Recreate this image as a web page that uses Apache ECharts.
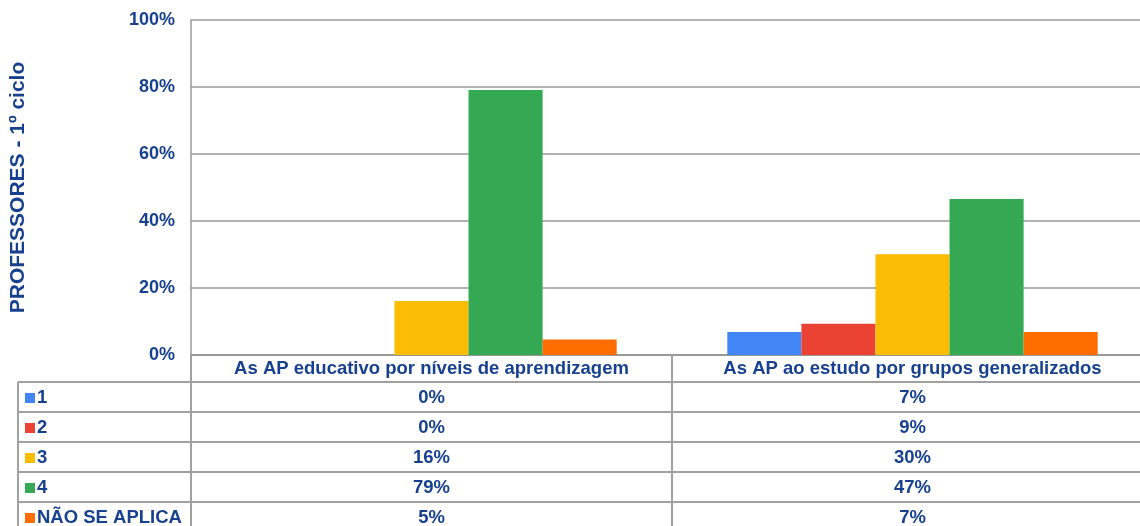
<!DOCTYPE html>
<html><head><meta charset="utf-8">
<script src="https://cdn.jsdelivr.net/npm/echarts@6/dist/echarts.min.js"></script>
<style>html,body{margin:0;padding:0;background:#fff}#c{width:1140px;height:526px}</style>
</head><body><div id="c"></div>
<script>
const categories = ['As AP educativo por níveis de aprendizagem', 'As AP ao estudo por grupos generalizados'];
const seriesNames = ['1', '2', '3', '4', 'NÃO SE APLICA'];
const s1 = [0, 6.9];
const s2 = [0, 9.3];
const s3 = [16.1, 30.1];
const s4 = [79.1, 46.6];
const sNA = [4.6, 6.9];
const seriesValues = [s1, s2, s3, s4, sNA];
const yAxisTitle = 'PROFESSORES - 1º ciclo';

const colors = ['#4285F4', '#EA4335', '#FBBC04', '#34A853', '#FF6D00'];
const TXT = '#17418f';
const FONT = 'Liberation Sans, Arial, sans-serif';
const GRID_LEFT = 191, GRID_TOP = 20, GRID_W = 962, GRID_H = 335;

const chart = echarts.init(document.getElementById('c'), null, {renderer: 'canvas'});
chart.setOption({
  animation: false,
  backgroundColor: '#fff',
  grid: {left: GRID_LEFT, top: GRID_TOP, width: GRID_W, height: GRID_H, containLabel: false, outerBoundsMode: 'none'},
  xAxis: {
    type: 'category', data: categories,
    axisLine: {lineStyle: {color: '#999', width: 2}},
    axisTick: {show: false},
    axisLabel: {color: TXT, fontFamily: FONT, fontWeight: 'bold', fontSize: 18.5, margin: 4, interval: 0}
  },
  yAxis: {
    type: 'value', min: 0, max: 100, interval: 20,
    name: yAxisTitle, nameLocation: 'middle', nameRotate: 90, nameGap: 162,
    nameTextStyle: {color: TXT, fontFamily: FONT, fontWeight: 'bold', fontSize: 21},
    axisLine: {show: true, lineStyle: {color: '#999', width: 1.5}},
    axisTick: {show: false},
    splitLine: {lineStyle: {color: '#999', width: 1.5}},
    axisLabel: {color: TXT, fontFamily: FONT, fontWeight: 'bold', fontSize: 18, margin: 16, formatter: '{value}%'}
  },
  series: seriesNames.map((n, i) => ({
    name: n, type: 'bar', data: seriesValues[i], barGap: '0%', barCategoryGap: '23%',
    itemStyle: {color: colors[i]}
  }))
});

// Data table under the plot
const c0 = chart.convertToPixel({xAxisIndex: 0}, 0);
const c1 = chart.convertToPixel({xAxisIndex: 0}, 1);
const step = c1 - c0;
const plotLeft = c0 - step / 2;
const boundary = (c0 + c1) / 2;
const yBase = chart.convertToPixel({yAxisIndex: 0}, 0);
const HEADER_H = 27, ROW_H = 30, TABLE_LEFT = 18, W = 1140, H = 526;
const firstRow = yBase + HEADER_H;
const lineStyle = {stroke: '#a0a0a0', lineWidth: 2};
const g = [];
for (let r = 0; r <= seriesNames.length; r++) {
  const y = firstRow + r * ROW_H;
  g.push({type: 'line', shape: {x1: TABLE_LEFT, y1: y, x2: W, y2: y}, style: lineStyle, z: 10});
}
g.push({type: 'line', shape: {x1: TABLE_LEFT, y1: firstRow, x2: TABLE_LEFT, y2: H + 10}, style: lineStyle, z: 10});
g.push({type: 'line', shape: {x1: plotLeft, y1: yBase, x2: plotLeft, y2: H + 10}, style: lineStyle, z: 10});
g.push({type: 'line', shape: {x1: boundary, y1: yBase, x2: boundary, y2: H + 10}, style: lineStyle, z: 10});
seriesNames.forEach((n, r) => {
  const yc = firstRow + r * ROW_H + ROW_H / 2 + 1;
  g.push({type: 'rect', shape: {x: 25, y: yc - 5, width: 10, height: 10}, style: {fill: colors[r]}, z: 11});
  g.push({type: 'text', x: 37, y: yc, style: {text: n, fill: TXT, font: 'bold 18.5px ' + FONT, textVerticalAlign: 'middle', textAlign: 'left'}, z: 11});
  seriesValues[r].forEach((v, ci) => {
    const xc = chart.convertToPixel({xAxisIndex: 0}, ci);
    g.push({type: 'text', x: xc, y: yc, style: {text: Math.round(v) + '%', fill: TXT, font: 'bold 18.5px ' + FONT, textAlign: 'center', textVerticalAlign: 'middle'}, z: 11});
  });
});
chart.setOption({graphic: {elements: g}});
</script>
</body></html>
